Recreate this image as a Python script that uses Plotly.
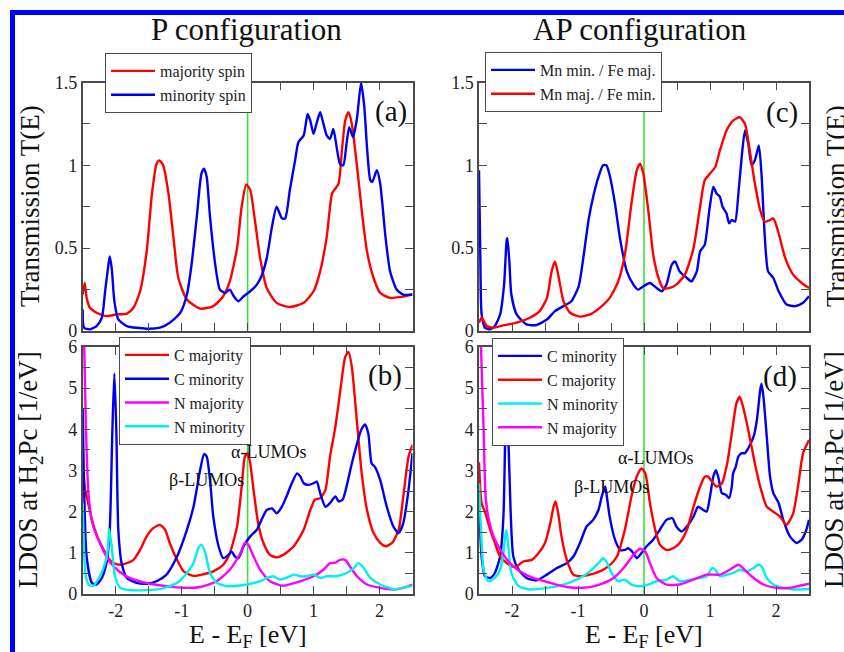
import plotly.graph_objects as go

# ---------------- data ----------------
# Panel (a): P configuration, transmission
a_maj_E = [-2.50,-2.47,-2.44,-2.39,-2.29,-2.14,-1.98,-1.83,-1.73,-1.63,-1.53,-1.45,-1.38,-1.34,-1.28,-1.20,-1.12,-1.05,-0.92,-0.72,-0.52,-0.37,-0.27,-0.16,-0.09,-0.02,0.04,0.11,0.19,0.29,0.44,0.64,0.85,1.00,1.10,1.20,1.28,1.33,1.38,1.43,1.48,1.53,1.58,1.66,1.73,1.81,1.91,2.01,2.16,2.31,2.50]
a_maj_T = [0.22,0.29,0.20,0.14,0.11,0.09,0.10,0.105,0.14,0.24,0.48,0.83,1.01,1.03,1.00,0.83,0.55,0.32,0.19,0.135,0.15,0.21,0.30,0.50,0.75,0.885,0.85,0.67,0.44,0.26,0.17,0.145,0.17,0.24,0.36,0.57,0.83,0.86,0.89,1.09,1.27,1.32,1.25,0.99,0.73,0.48,0.32,0.23,0.20,0.205,0.22]
a_min_E = [-2.50,-2.48,-2.39,-2.29,-2.21,-2.16,-2.11,-2.09,-2.06,-2.02,-1.96,-1.83,-1.53,-1.33,-1.18,-1.02,-0.92,-0.85,-0.77,-0.70,-0.66,-0.62,-0.57,-0.49,-0.42,-0.34,-0.27,-0.21,-0.14,-0.06,0.04,0.14,0.21,0.29,0.37,0.44,0.52,0.57,0.64,0.72,0.77,0.85,0.91,0.95,1.00,1.05,1.10,1.15,1.20,1.25,1.30,1.35,1.40,1.45,1.50,1.54,1.60,1.66,1.72,1.77,1.81,1.86,1.89,1.96,2.01,2.09,2.16,2.26,2.36,2.50]
a_min_T = [0.13,0.02,0.01,0.03,0.08,0.24,0.40,0.45,0.38,0.18,0.07,0.03,0.014,0.02,0.05,0.11,0.22,0.40,0.69,0.95,0.98,0.93,0.69,0.40,0.25,0.23,0.25,0.21,0.18,0.21,0.24,0.28,0.33,0.44,0.63,0.75,0.68,0.68,0.85,1.03,1.14,1.18,1.31,1.27,1.19,1.26,1.32,1.25,1.18,1.16,1.22,1.11,1.01,1.00,1.13,1.23,1.17,1.29,1.50,1.35,1.11,0.91,0.90,0.97,0.89,0.57,0.36,0.25,0.22,0.22]

# Panel (b): P configuration, LDOS
b_Cmaj_E = [-2.50,-2.47,-2.43,-2.36,-2.28,-2.19,-2.10,-2.03,-1.93,-1.83,-1.73,-1.63,-1.53,-1.43,-1.33,-1.25,-1.18,-1.07,-0.97,-0.82,-0.67,-0.52,-0.37,-0.27,-0.16,-0.09,-0.04,0.00,0.04,0.09,0.16,0.24,0.34,0.44,0.54,0.70,0.85,0.95,1.02,1.10,1.18,1.25,1.33,1.40,1.48,1.53,1.58,1.66,1.73,1.81,1.91,2.01,2.09,2.19,2.29,2.36,2.44,2.50]
b_Cmaj_D = [3.3,2.6,2.3,1.8,1.4,1.1,0.85,0.75,0.71,0.75,0.83,1.07,1.40,1.60,1.68,1.56,1.24,0.83,0.55,0.44,0.48,0.55,0.71,0.99,1.64,2.61,3.34,3.42,3.17,2.53,1.72,1.24,0.95,0.89,0.95,1.16,1.56,2.04,2.29,2.33,2.53,3.34,4.06,4.87,5.76,5.88,5.52,4.14,2.93,2.04,1.48,1.24,1.16,1.24,1.56,2.37,3.34,3.62]
b_Cmin_E = [-2.50,-2.44,-2.36,-2.29,-2.21,-2.14,-2.09,-2.05,-2.02,-1.99,-1.96,-1.91,-1.83,-1.68,-1.53,-1.38,-1.23,-1.07,-0.92,-0.82,-0.72,-0.66,-0.62,-0.57,-0.52,-0.44,-0.37,-0.29,-0.24,-0.19,-0.14,-0.06,0.04,0.14,0.21,0.29,0.37,0.44,0.52,0.59,0.67,0.75,0.80,0.85,0.92,1.00,1.05,1.10,1.18,1.25,1.33,1.38,1.44,1.50,1.58,1.66,1.72,1.78,1.83,1.88,1.93,2.01,2.11,2.21,2.29,2.36,2.44,2.50]
b_Cmin_D = [4.5,0.9,0.27,0.23,0.39,0.75,1.56,3.98,5.36,3.98,1.56,0.75,0.39,0.27,0.25,0.31,0.47,0.91,1.56,2.12,3.01,3.40,3.34,2.77,1.88,1.16,0.87,0.95,1.03,0.91,0.87,1.16,1.40,1.56,1.80,2.04,2.08,1.96,2.12,2.37,2.69,2.93,2.85,2.69,2.65,2.69,2.73,2.45,2.12,2.21,2.37,2.25,2.29,2.61,3.17,3.66,3.98,4.12,3.90,3.17,3.09,2.77,2.12,1.64,1.48,1.72,2.53,3.42]
b_Nmaj_E = [-2.49,-2.45,-2.41,-2.34,-2.24,-2.14,-2.03,-1.88,-1.68,-1.48,-1.23,-0.97,-0.72,-0.47,-0.27,-0.11,-0.04,0.01,0.09,0.19,0.34,0.54,0.80,1.00,1.15,1.25,1.33,1.40,1.48,1.55,1.66,1.81,2.01,2.21,2.36,2.50]
b_Nmaj_D = [7.0,3.98,2.37,1.64,1.24,0.91,0.67,0.47,0.33,0.25,0.19,0.15,0.17,0.31,0.59,0.99,1.24,1.20,0.91,0.59,0.31,0.20,0.31,0.43,0.59,0.75,0.76,0.83,0.83,0.67,0.43,0.23,0.15,0.11,0.15,0.23]
b_Nmin_E = [-2.50,-2.46,-2.41,-2.34,-2.24,-2.16,-2.12,-2.10,-2.06,-2.01,-1.93,-1.73,-1.33,-1.07,-0.92,-0.82,-0.75,-0.70,-0.64,-0.57,-0.47,-0.32,-0.16,-0.01,0.19,0.29,0.39,0.49,0.59,0.70,0.80,0.89,1.00,1.10,1.20,1.35,1.50,1.61,1.68,1.76,1.86,2.01,2.21,2.36,2.50]
b_Nmin_D = [2.2,0.51,0.23,0.20,0.43,0.75,1.07,1.58,1.16,0.43,0.15,0.09,0.12,0.27,0.51,0.75,1.11,1.20,0.99,0.51,0.27,0.19,0.20,0.23,0.31,0.39,0.43,0.35,0.39,0.47,0.43,0.43,0.47,0.39,0.43,0.43,0.51,0.63,0.75,0.63,0.39,0.23,0.12,0.15,0.19]

# Panel (c): AP configuration, transmission
c_MnminFemaj_E = [-2.50,-2.48,-2.46,-2.41,-2.33,-2.26,-2.18,-2.12,-2.08,-2.07,-2.04,-2.01,-1.93,-1.78,-1.63,-1.47,-1.35,-1.22,-1.10,-0.99,-0.92,-0.84,-0.77,-0.69,-0.62,-0.57,-0.52,-0.44,-0.36,-0.26,-0.16,-0.09,-0.01,0.09,0.19,0.27,0.34,0.42,0.47,0.54,0.65,0.72,0.80,0.85,0.92,0.99,1.05,1.10,1.15,1.19,1.25,1.29,1.33,1.38,1.43,1.48,1.53,1.58,1.63,1.68,1.74,1.78,1.83,1.88,1.96,2.04,2.16,2.29,2.41,2.50]
c_MnminFemaj_T = [0.97,0.45,0.10,0.02,0.01,0.03,0.10,0.28,0.55,0.56,0.42,0.22,0.10,0.04,0.036,0.07,0.12,0.15,0.18,0.27,0.44,0.67,0.81,0.93,1.00,1.00,0.94,0.77,0.55,0.36,0.28,0.25,0.27,0.29,0.26,0.24,0.28,0.40,0.42,0.36,0.32,0.30,0.36,0.48,0.52,0.73,0.87,0.83,0.81,0.75,0.71,0.65,0.67,0.66,0.83,1.05,1.21,1.13,1.00,1.03,1.12,0.95,0.57,0.36,0.32,0.24,0.16,0.15,0.17,0.21]
c_MnmajFemin_E = [-2.50,-2.46,-2.38,-2.28,-2.13,-1.93,-1.73,-1.58,-1.47,-1.40,-1.35,-1.30,-1.22,-1.12,-0.97,-0.82,-0.67,-0.52,-0.39,-0.29,-0.19,-0.11,-0.06,-0.01,0.07,0.14,0.22,0.29,0.39,0.49,0.62,0.75,0.85,0.92,1.00,1.08,1.15,1.25,1.35,1.45,1.53,1.61,1.68,1.76,1.83,1.91,1.96,2.04,2.14,2.26,2.39,2.50]
c_MnmajFemin_T = [0.05,0.08,0.03,0.02,0.034,0.05,0.08,0.12,0.20,0.36,0.42,0.34,0.18,0.11,0.087,0.10,0.14,0.20,0.30,0.46,0.77,0.97,1.01,0.95,0.71,0.46,0.32,0.26,0.26,0.28,0.34,0.50,0.75,0.91,0.95,0.99,1.09,1.21,1.27,1.29,1.25,1.07,0.89,0.73,0.66,0.67,0.68,0.59,0.44,0.34,0.29,0.26]

# Panel (d): AP configuration, LDOS
d_Cmin_E = [-2.50,-2.46,-2.41,-2.33,-2.26,-2.18,-2.13,-2.10,-2.08,-2.06,-2.02,-1.98,-1.90,-1.78,-1.63,-1.47,-1.32,-1.17,-1.07,-0.97,-0.87,-0.77,-0.69,-0.64,-0.59,-0.57,-0.52,-0.44,-0.36,-0.29,-0.24,-0.16,-0.11,-0.04,0.04,0.14,0.24,0.34,0.43,0.49,0.57,0.65,0.75,0.82,0.90,0.95,1.00,1.05,1.09,1.13,1.18,1.24,1.29,1.33,1.35,1.39,1.43,1.48,1.53,1.58,1.66,1.71,1.76,1.78,1.81,1.86,1.91,1.96,2.04,2.11,2.21,2.31,2.39,2.46,2.50]
d_Cmin_D = [2.4,0.9,0.43,0.39,0.51,0.91,1.88,3.98,4.60,4.06,1.96,0.91,0.59,0.39,0.33,0.47,0.63,0.75,0.91,1.24,1.64,1.80,2.04,2.37,2.61,2.45,1.88,1.32,1.07,1.07,1.11,0.99,0.87,0.99,1.16,1.32,1.56,1.80,1.84,1.64,1.52,1.64,1.88,2.12,2.04,2.00,2.37,2.85,3.01,2.81,2.45,2.41,2.33,2.61,2.93,3.09,3.34,3.42,3.42,3.54,3.82,4.22,4.95,5.11,4.79,3.82,2.85,2.45,2.21,1.80,1.40,1.24,1.32,1.56,1.80]
d_Cmaj_E = [-2.50,-2.46,-2.41,-2.33,-2.26,-2.18,-2.08,-2.01,-1.93,-1.83,-1.70,-1.60,-1.50,-1.42,-1.37,-1.34,-1.30,-1.25,-1.17,-1.07,-0.97,-0.82,-0.67,-0.54,-0.41,-0.29,-0.19,-0.11,-0.04,0.02,0.09,0.17,0.24,0.34,0.44,0.54,0.65,0.75,0.85,0.92,0.97,1.03,1.10,1.18,1.26,1.33,1.40,1.45,1.50,1.58,1.68,1.76,1.86,1.96,2.06,2.16,2.26,2.34,2.41,2.50]
d_Cmaj_D = [3.2,2.2,2.0,1.56,1.24,0.91,0.75,0.67,0.67,0.79,0.83,0.99,1.24,1.72,2.12,2.25,1.96,1.40,0.83,0.47,0.43,0.47,0.55,0.67,0.91,1.56,2.37,2.85,3.05,2.93,2.21,1.56,1.20,1.07,1.11,1.24,1.56,2.12,2.61,2.85,2.85,2.73,2.61,2.69,3.17,3.90,4.63,4.79,4.55,3.98,3.17,2.61,2.12,2.00,1.88,1.68,1.96,2.69,3.42,3.74]
d_Nmin_E = [-2.50,-2.47,-2.43,-2.36,-2.26,-2.18,-2.13,-2.09,-2.06,-2.01,-1.90,-1.73,-1.47,-1.22,-0.97,-0.82,-0.69,-0.62,-0.57,-0.49,-0.39,-0.29,-0.19,-0.06,0.07,0.19,0.34,0.44,0.54,0.70,0.85,0.95,1.03,1.08,1.15,1.26,1.35,1.45,1.56,1.66,1.73,1.78,1.86,1.96,2.11,2.26,2.50]
d_Nmin_D = [2.69,1.56,0.59,0.31,0.39,0.59,0.99,1.56,1.24,0.51,0.19,0.11,0.15,0.23,0.39,0.55,0.75,0.87,0.79,0.51,0.31,0.35,0.23,0.19,0.23,0.31,0.35,0.43,0.31,0.35,0.39,0.43,0.63,0.59,0.43,0.47,0.51,0.59,0.55,0.63,0.71,0.67,0.39,0.23,0.15,0.11,0.12]
d_Nmaj_E = [-2.49,-2.43,-2.40,-2.36,-2.28,-2.16,-2.03,-1.88,-1.68,-1.42,-1.17,-0.92,-0.67,-0.46,-0.31,-0.16,-0.06,0.02,0.09,0.19,0.34,0.54,0.75,0.95,1.15,1.30,1.43,1.50,1.63,1.81,2.01,2.21,2.36,2.50]
d_Nmaj_D = [7.0,3.98,2.37,1.88,1.40,1.03,0.75,0.55,0.39,0.27,0.17,0.15,0.23,0.39,0.63,0.95,1.10,1.03,0.75,0.39,0.23,0.23,0.35,0.47,0.47,0.59,0.71,0.63,0.43,0.23,0.15,0.15,0.20,0.25]

x_ticks = [-2.5,-2.0,-1.5,-1.0,-0.5,0.0,0.5,1.0,1.5,2.0,2.5]
x_ticktext = ["", "-2", "", "-1", "", "0", "", "1", "", "2", ""]
T_ticks = [0,0.25,0.5,0.75,1.0,1.25,1.5]
T_ticktext = ["0","","0.5","","1","","1.5"]
D_ticks = [0,0.5,1,1.5,2,2.5,3,3.5,4,4.5,5,5.5,6]
D_ticktext = ["0","","1","","2","","3","","4","","5","","6"]

# ---------------- styling / layout ----------------
W, H = 844, 652
def px(x): return x / W
def py(y): return 1 - y / H

RED = "#ff0000"
BLUE = "#0000f0"
MAG = "#ff00ff"
CYAN = "#00f0f0"
GREEN = "#3ce03c"
FRAME = "#4a4a4a"
SERIF = "Liberation Serif, Times New Roman, serif"
LW = 2.4

fig = go.Figure()

def add(x, y, name, color, xa, ya, legend):
    fig.add_trace(go.Scatter(x=x, y=y, name=name, mode="lines",
                             line=dict(color=color, width=LW, shape="spline", smoothing=0.6),
                             xaxis=xa, yaxis=ya, legend=legend, hoverinfo="skip"))

add(a_maj_E, a_maj_T, "majority spin", RED, "x", "y", "legend")
add(a_min_E, a_min_T, "minority spin", BLUE, "x", "y", "legend")

add(b_Cmaj_E, b_Cmaj_D, "C majority", RED, "x2", "y2", "legend2")
add(b_Cmin_E, b_Cmin_D, "C minority", BLUE, "x2", "y2", "legend2")
add(b_Nmaj_E, b_Nmaj_D, "N majority", MAG, "x2", "y2", "legend2")
add(b_Nmin_E, b_Nmin_D, "N minority", CYAN, "x2", "y2", "legend2")

add(c_MnminFemaj_E, c_MnminFemaj_T, "Mn min. / Fe maj.", BLUE, "x3", "y3", "legend3")
add(c_MnmajFemin_E, c_MnmajFemin_T, "Mn maj. / Fe min.", RED, "x3", "y3", "legend3")

add(d_Cmin_E, d_Cmin_D, "C minority", BLUE, "x4", "y4", "legend4")
add(d_Cmaj_E, d_Cmaj_D, "C majority", RED, "x4", "y4", "legend4")
add(d_Nmin_E, d_Nmin_D, "N minority", CYAN, "x4", "y4", "legend4")
add(d_Nmaj_E, d_Nmaj_D, "N majority", MAG, "x4", "y4", "legend4")

LX = [px(82.7), px(412.5)]
RX = [px(479), px(809)]
TY = [py(331), py(82.5)]
BY = [py(594), py(347)]

tickfont = dict(family=SERIF, size=18, color="#222")

def xax(domain, anchor, labels):
    return dict(domain=domain, anchor=anchor, range=[-2.5, 2.5], tickvals=x_ticks,
                ticktext=x_ticktext, showticklabels=labels, ticks="inside", ticklen=8,
                tickcolor=FRAME, tickwidth=1.3, showline=True, linecolor=FRAME, linewidth=1.5,
                mirror="ticks", showgrid=False, zeroline=False, tickfont=tickfont,
                automargin=False)

def yax(domain, anchor, rng, tv, tt):
    return dict(domain=domain, anchor=anchor, range=rng, tickvals=tv, ticktext=tt,
                ticks="inside", ticklen=8, tickcolor=FRAME, tickwidth=1.3, showline=True,
                linecolor=FRAME, linewidth=1.5, mirror="ticks", showgrid=False,
                zeroline=False, tickfont=tickfont, automargin=False)

legfont = dict(family=SERIF, size=16, color="#222")
def leg(x, y):
    return dict(x=x, y=y, xanchor="left", yanchor="top", bgcolor="white",
                bordercolor=FRAME, borderwidth=1, font=legfont, itemwidth=44,
                tracegroupgap=0)

annots = []
def ann(x, y, text, size, angle=0, xanchor="center", yanchor="middle"):
    annots.append(dict(x=px(x), y=py(y), xref="paper", yref="paper", text=text,
                       showarrow=False, textangle=angle, xanchor=xanchor, yanchor=yanchor,
                       font=dict(family=SERIF, size=size, color="#111")))

ann(246, 30, "P configuration", 31)
ann(640, 30, "AP configuration", 31)
ann(30, 206, "Transmission T(E)", 27, angle=-90)
ann(30, 470, "LDOS at H<sub>2</sub>Pc [1/eV]", 27, angle=-90)
ann(836, 206, "Transmission T(E)", 27, angle=-90)
ann(836, 470, "LDOS at H<sub>2</sub>Pc [1/eV]", 27, angle=-90)
ann(248, 636, "E - E<sub>F</sub> [eV]", 26)
ann(644, 636, "E - E<sub>F</sub> [eV]", 26)
ann(391, 111, "(a)", 29)
ann(385, 375, "(b)", 29)
ann(782, 112, "(c)", 29)
ann(780, 376, "(d)", 29)
ann(268, 452, "α-LUMOs", 18)
ann(206, 480, "β-LUMOs", 18)
ann(655, 458, "α-LUMOs", 18)
ann(611, 487, "β-LUMOs", 18)

shapes = []
for xa, ya in [("x", "y"), ("x2", "y2"), ("x3", "y3"), ("x4", "y4")]:
    shapes.append(dict(type="line", xref=xa, yref=ya + " domain", x0=0, x1=0, y0=0, y1=1,
                       line=dict(color=GREEN, width=1.6), layer="below"))
# blue outer frame of the figure (top and left edges visible)
shapes.append(dict(type="line", xref="paper", yref="paper", x0=px(10), x1=1.0,
                   y0=py(12.5), y1=py(12.5), line=dict(color="#0000ff", width=5)))
shapes.append(dict(type="line", xref="paper", yref="paper", x0=px(12.5), x1=px(12.5),
                   y0=0.0, y1=py(10), line=dict(color="#0000ff", width=5)))

fig.update_layout(
    width=W, height=H, margin=dict(l=0, r=0, t=0, b=0, pad=0, autoexpand=False),
    paper_bgcolor="white", plot_bgcolor="white",
    xaxis=xax(LX, "y", False), yaxis=yax(TY, "x", [0, 1.5], T_ticks, T_ticktext),
    xaxis2=xax(LX, "y2", True), yaxis2=yax(BY, "x2", [0, 6], D_ticks, D_ticktext),
    xaxis3=xax(RX, "y3", False), yaxis3=yax(TY, "x3", [0, 1.5], T_ticks, T_ticktext),
    xaxis4=xax(RX, "y4", True), yaxis4=yax(BY, "x4", [0, 6], D_ticks, D_ticktext),
    legend=leg(px(105), py(53)),
    legend2=leg(px(119), py(337)),
    legend3=leg(px(485), py(52)),
    legend4=leg(px(492), py(338)),
    annotations=annots, shapes=shapes, showlegend=True,
)

fig.write_html("out.html", config={"displayModeBar": False},
               post_script="document.body.style.margin='0';")
